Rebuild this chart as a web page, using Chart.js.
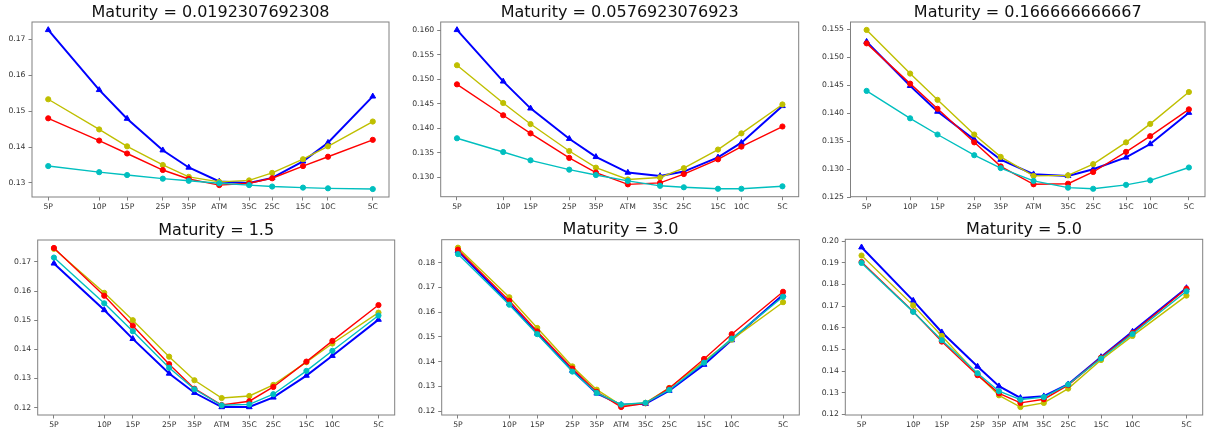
<!DOCTYPE html>
<html>
<head>
<meta charset="utf-8">
<script src="https://cdn.jsdelivr.net/npm/chart.js@4.4.0/dist/chart.umd.min.js"></script>
<style>
  body { margin: 0; background: #fff; width: 1206px; height: 434px; overflow: hidden; position: relative; }
  canvas { position: absolute; }
</style>
</head>
<body>
<canvas id="c1"></canvas>
<canvas id="c2"></canvas>
<canvas id="c3"></canvas>
<canvas id="c4"></canvas>
<canvas id="c5"></canvas>
<canvas id="c6"></canvas>
<script>
// strike buckets, same for every maturity
const labels = ['5P', '10P', '15P', '25P', '35P', 'ATM', '35C', '25C', '15C', '10C', '5C'];
const maturities = ['0.0192307692308', '0.0576923076923', '0.166666666667', '1.5', '3.0', '5.0'];

// bucket positions on the x axis (5P = 0, 5C = 100)
const strikes1 = [0, 15.7, 24.3, 35.3, 43.3, 52.7, 61.9, 69.0, 78.5, 86.2, 100];
const strikes2 = [0, 14.2, 22.6, 34.5, 42.7, 52.5, 62.4, 69.7, 80.2, 87.4, 100];
const strikes3 = [0, 13.5, 22.0, 33.4, 41.6, 51.8, 62.5, 70.3, 80.5, 88.0, 100];
const strikes4 = [0, 15.5, 24.3, 35.5, 43.3, 51.7, 60.2, 67.6, 77.8, 85.8, 100];
const strikes5 = [0, 15.8, 24.4, 35.2, 42.7, 50.2, 57.7, 65.0, 75.7, 84.2, 100];
const strikes6 = [0, 15.9, 24.7, 35.7, 42.3, 48.9, 56.1, 63.6, 73.7, 83.4, 100];

const blue1 = [0.1726, 0.1559, 0.1479, 0.1391, 0.1343, 0.1304, 0.1300, 0.1314, 0.1360, 0.1412, 0.1541];
const yellow1 = [0.1533, 0.1449, 0.1402, 0.1350, 0.1317, 0.1303, 0.1307, 0.1328, 0.1366, 0.1402, 0.1471];
const red1 = [0.1480, 0.1418, 0.1382, 0.1336, 0.1311, 0.1294, 0.1299, 0.1313, 0.1347, 0.1373, 0.1420];
const cyan1 = [0.1347, 0.1330, 0.1322, 0.1312, 0.1306, 0.1299, 0.1294, 0.1290, 0.1287, 0.1285, 0.1283];

const blue2 = [0.1601, 0.1496, 0.1441, 0.1379, 0.1342, 0.1310, 0.1303, 0.1312, 0.1341, 0.1371, 0.1446];
const yellow2 = [0.1529, 0.1452, 0.1409, 0.1354, 0.1320, 0.1296, 0.1300, 0.1319, 0.1357, 0.1390, 0.1449];
const red2 = [0.1490, 0.1427, 0.1390, 0.1340, 0.1310, 0.1286, 0.1289, 0.1307, 0.1337, 0.1363, 0.1404];
const cyan2 = [0.1380, 0.1352, 0.1335, 0.1316, 0.1305, 0.1293, 0.1283, 0.1280, 0.1277, 0.1277, 0.1282];

const blue3 = [0.1528, 0.1449, 0.1403, 0.1353, 0.1317, 0.1291, 0.1288, 0.1300, 0.1321, 0.1345, 0.1401];
const yellow3 = [0.1549, 0.1471, 0.1424, 0.1362, 0.1322, 0.1288, 0.1289, 0.1309, 0.1348, 0.1381, 0.1438];
const red3 = [0.1525, 0.1453, 0.1408, 0.1348, 0.1305, 0.1273, 0.1274, 0.1295, 0.1331, 0.1359, 0.1407];
const cyan3 = [0.1440, 0.1391, 0.1362, 0.1325, 0.1302, 0.1279, 0.1267, 0.1265, 0.1272, 0.1280, 0.1303];

const blue4 = [0.1695, 0.1535, 0.1436, 0.1317, 0.1251, 0.1202, 0.1202, 0.1235, 0.1310, 0.1378, 0.1502];
const yellow4 = [0.1745, 0.1594, 0.1500, 0.1375, 0.1294, 0.1233, 0.1240, 0.1278, 0.1356, 0.1420, 0.1526];
const red4 = [0.1748, 0.1584, 0.1481, 0.1349, 0.1265, 0.1209, 0.1222, 0.1271, 0.1358, 0.1429, 0.1552];
const cyan4 = [0.1715, 0.1558, 0.1462, 0.1337, 0.1263, 0.1208, 0.1211, 0.1246, 0.1326, 0.1395, 0.1516];

const blue5 = [0.1847, 0.1635, 0.1514, 0.1364, 0.1272, 0.1226, 0.1230, 0.1283, 0.1388, 0.1487, 0.1670];
const yellow5 = [0.1860, 0.1660, 0.1536, 0.1381, 0.1287, 0.1224, 0.1234, 0.1294, 0.1401, 0.1489, 0.1640];
const red5 = [0.1852, 0.1646, 0.1522, 0.1372, 0.1278, 0.1217, 0.1232, 0.1293, 0.1411, 0.1511, 0.1682];
const cyan5 = [0.1834, 0.1630, 0.1511, 0.1360, 0.1274, 0.1227, 0.1234, 0.1286, 0.1396, 0.1493, 0.1662];

const blue6 = [0.1971, 0.1725, 0.1579, 0.1421, 0.1330, 0.1276, 0.1284, 0.1339, 0.1465, 0.1582, 0.1783];
const yellow6 = [0.1933, 0.1703, 0.1562, 0.1384, 0.1288, 0.1234, 0.1253, 0.1319, 0.1451, 0.1562, 0.1748];
const red6 = [0.1903, 0.1675, 0.1536, 0.1381, 0.1297, 0.1253, 0.1270, 0.1335, 0.1462, 0.1576, 0.1780];
const cyan6 = [0.1899, 0.1673, 0.1542, 0.1390, 0.1307, 0.1268, 0.1280, 0.1338, 0.1458, 0.1571, 0.1768];

const yTicks1 = ['0.13', '0.14', '0.15', '0.16', '0.17'];
const yTicks2 = ['0.130', '0.135', '0.140', '0.145', '0.150', '0.155', '0.160'];
const yTicks3 = ['0.125', '0.130', '0.135', '0.140', '0.145', '0.150', '0.155'];
const yTicks4 = ['0.12', '0.13', '0.14', '0.15', '0.16', '0.17'];
const yTicks5 = ['0.12', '0.13', '0.14', '0.15', '0.16', '0.17', '0.18'];
const yTicks6 = ['0.12', '0.13', '0.14', '0.15', '0.16', '0.17', '0.18', '0.19', '0.20'];

const panels = [
  { x: strikes1, b: blue1, y: yellow1, r: red1, c: cyan1, ticks: yTicks1 },
  { x: strikes2, b: blue2, y: yellow2, r: red2, c: cyan2, ticks: yTicks2 },
  { x: strikes3, b: blue3, y: yellow3, r: red3, c: cyan3, ticks: yTicks3 },
  { x: strikes4, b: blue4, y: yellow4, r: red4, c: cyan4, ticks: yTicks4 },
  { x: strikes5, b: blue5, y: yellow5, r: red5, c: cyan5, ticks: yTicks5 },
  { x: strikes6, b: blue6, y: yellow6, r: red6, c: cyan6, ticks: yTicks6 }
];

// canvas box and axes frame of every subplot, page pixels
const boxes = [
  { left: 0, top: 0, w: 402, h: 217, fl: 32, fr: 389, ft: 22, fb: 197 },
  { left: 402, top: 0, w: 404, h: 217, fl: 440.7, fr: 798.7, ft: 22, fb: 196.7 },
  { left: 806, top: 0, w: 404, h: 217, fl: 850.5, fr: 1208, ft: 22, fb: 196.7 },
  { left: 0, top: 217, w: 402, h: 217, fl: 37.7, fr: 394.7, ft: 240, fb: 415 },
  { left: 402, top: 217, w: 404, h: 217, fl: 441.7, fr: 799.3, ft: 239.7, fb: 415 },
  { left: 806, top: 217, w: 404, h: 217, fl: 845.3, fr: 1202.7, ft: 239.3, fb: 415 }
];

Chart.defaults.font.family = 'DejaVu Sans';
Chart.defaults.font.size = 7.7;
Chart.defaults.color = '#333';

const framePlugin = {
  id: 'frame',
  afterDraw(chart) {
    const a = chart.chartArea;
    const ctx = chart.ctx;
    ctx.save();
    ctx.strokeStyle = '#808080';
    ctx.lineWidth = 1;
    ctx.strokeRect(a.left, a.top, a.right - a.left, a.bottom - a.top);
    ctx.restore();
  }
};

function series(xs, ys, color, blue) {
  return {
    data: xs.map((x, i) => ({ x: x, y: ys[i] })),
    borderColor: color,
    backgroundColor: color,
    pointBackgroundColor: color,
    pointBorderColor: color,
    borderWidth: blue ? 2 : 1.4,
    pointStyle: blue ? 'triangle' : 'circle',
    pointRadius: blue ? 3.3 : 2.6,
    pointBorderWidth: 1,
    tension: 0
  };
}

function render(i) {
  const p = panels[i];
  const box = boxes[i];
  const canvas = document.getElementById('c' + (i + 1));
  canvas.width = box.w;
  canvas.height = box.h;
  canvas.style.left = box.left + 'px';
  canvas.style.top = box.top + 'px';

  const all = p.b.concat(p.y, p.r, p.c);
  const lo = Math.min(...all);
  const hi = Math.max(...all);
  const pad = (hi - lo) * 0.05;
  const tickVals = p.ticks.map(Number);

  new Chart(canvas, {
    type: 'line',
    data: {
      datasets: [
        series(p.x, p.c, '#00bfbf', false),
        series(p.x, p.r, '#ff0000', false),
        series(p.x, p.y, '#bfbf00', false),
        series(p.x, p.b, '#0000ff', true)
      ]
    },
    options: {
      responsive: false,
      animation: false,
      events: [],
      layout: { padding: { left: 0, top: 0, bottom: 0, right: box.left + box.w - box.fr } },
      plugins: {
        legend: { display: false },
        tooltip: { enabled: false },
        title: {
          display: true,
          fullSize: false,
          text: 'Maturity = ' + maturities[i],
          color: '#111',
          font: { size: 16, weight: 'normal', lineHeight: 1.2 },
          padding: { top: box.ft - box.top - 19.2, bottom: 0 }
        }
      },
      scales: {
        x: {
          type: 'linear',
          min: -5,
          max: 105,
          border: { display: false },
          grid: { drawOnChartArea: false, drawTicks: true, tickLength: 3.5, tickColor: '#808080' },
          ticks: { autoSkip: false, maxRotation: 0, padding: 2, callback: (v, k) => labels[k] },
          afterBuildTicks: (s) => { s.ticks = p.x.map((v) => ({ value: v })); },
          afterFit: (s) => { s.height = box.top + box.h - box.fb; }
        },
        y: {
          type: 'linear',
          min: lo - pad,
          max: hi + pad,
          border: { display: false },
          grid: { drawOnChartArea: false, drawTicks: true, tickLength: 3.5, tickColor: '#808080' },
          ticks: { padding: 3, callback: (v, k) => p.ticks[k] },
          afterBuildTicks: (s) => { s.ticks = tickVals.map((v) => ({ value: v })); },
          afterFit: (s) => { s.width = box.fl - box.left; }
        }
      }
    },
    plugins: [framePlugin]
  });
}

for (let i = 0; i < panels.length; i++) render(i);
</script>
</body>
</html>
